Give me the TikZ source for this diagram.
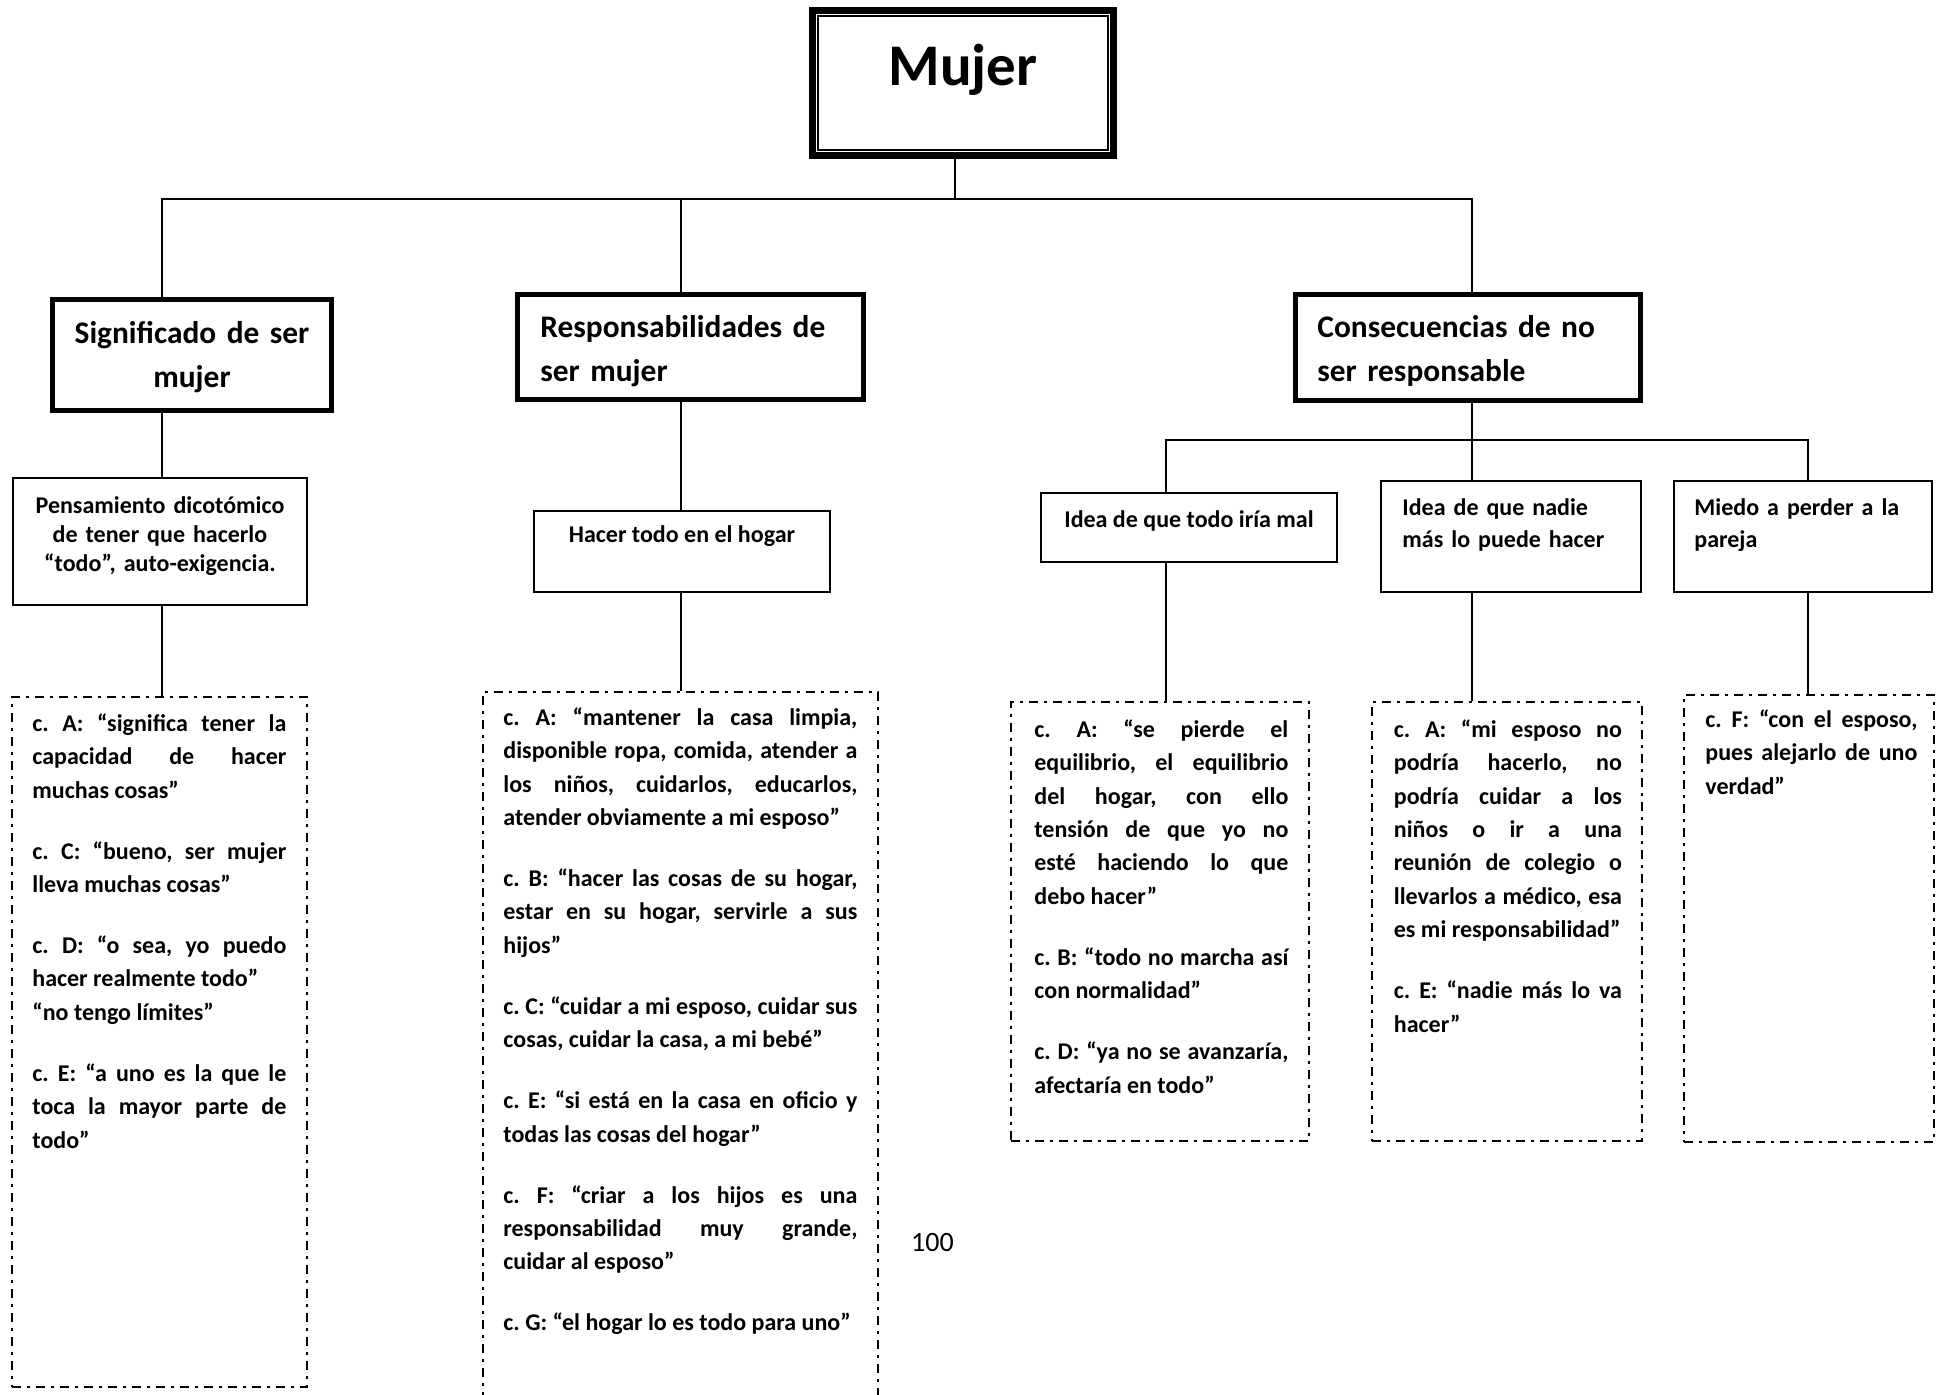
\documentclass[tikz,border=0pt]{standalone}
\usepackage{fontspec}
\setmainfont{Carlito}
\frenchspacing
\tikzstyle{rootblock} = [draw, rectangle, line width=3.5pt, inner sep=0pt,
minimum width=150.5pt, minimum height=72.5pt]
\tikzstyle{block} = [draw, rectangle, line width=2.5pt, inner sep=0pt]
\tikzstyle{blockA} = [draw, rectangle, line width=1pt, inner sep=0pt]
\tikzstyle{quoteblock} = [draw, rectangle, line width=1pt, inner sep=0pt,
dash pattern=on 4.5pt off 3pt on 1.5pt off 3pt]
\tikzstyle{link} = [line width=1pt]
\tikzstyle{rootlabel} = [inner sep=0pt, anchor=base, font=\fontsize{29.5}{35}\selectfont\bfseries]
\tikzstyle{headlabel} = [inner sep=0pt, font=\fontsize{15.7}{21.8}\selectfont\bfseries]
\tikzstyle{idealabel} = [inner sep=0pt, font=\fontsize{12}{16}\selectfont\bfseries]
\tikzstyle{quotelabel} = [inner sep=0pt, anchor=north west, align=justify,
font=\fontsize{12}{16.7}\selectfont\bfseries,
execute at begin node={\setlength{\parskip}{13.8pt}\parindent=0pt\hyphenpenalty=10000}]

\begin{document}
\begin{tikzpicture}[x=0.5pt, y=-0.5pt]
    \path[use as bounding box, clip] (0,0) rectangle (1942,1395);
    \fill[white] (0,0) rectangle (1942,1395);

    % the boxes of the tree
    \node [rootblock] (mujer) at (963,83) {};
    \draw [line width=1pt] ([shift={(4.5pt,-4.5pt)}]mujer.north west) rectangle ([shift={(-4.5pt,4.5pt)}]mujer.south east);
    \node [block, minimum width=139.5pt, minimum height=55.5pt] (significado) at (192,355) {};
    \node [block, minimum width=173pt, minimum height=52.5pt] (responsabilidades) at (690.5,347) {};
    \node [block, minimum width=172.5pt, minimum height=53pt] (consecuencias) at (1468,347.5) {};
    \node [blockA, minimum width=147pt, minimum height=63.5pt] (pensamiento) at (160,541.5) {};
    \node [blockA, minimum width=148pt, minimum height=40.5pt] (hacerTodo) at (682,551.5) {};
    \node [blockA, minimum width=148pt, minimum height=34.5pt] (ideaMal) at (1189,527.5) {};
    \node [blockA, minimum width=130pt, minimum height=55.5pt] (ideaNadie) at (1511,536.5) {};
    \node [blockA, minimum width=129pt, minimum height=55.5pt] (miedoPareja) at (1803,536.5) {};
    \node [quoteblock, minimum width=147.5pt, minimum height=345pt] (citasSignificado) at (159.5,1042) {};
    \node [quoteblock, minimum width=197.5pt, minimum height=359pt] (citasHogar) at (680.5,1051) {};
    \node [quoteblock, minimum width=149pt, minimum height=219.5pt] (citasIdeaMal) at (1160,921.5) {};
    \node [quoteblock, minimum width=135pt, minimum height=219.5pt] (citasNadie) at (1507,921.5) {};
    \node [quoteblock, minimum width=125pt, minimum height=223.5pt] (citasMiedo) at (1809,918.5) {};

    % texts
    \node [rootlabel] (mujerText) at (963,85.5) {Mujer};
    \node [headlabel, anchor=north, text width=139pt, align=center] (significadoText) at (192,312.5)
        {\strut Significado de ser\\mujer};
    \node [headlabel, anchor=north west, text width=160pt, align=left] (responsabilidadesText) at (540,306.5)
        {\strut Responsabilidades de\\ser mujer};
    \node [headlabel, anchor=north west, text width=160pt, align=left] (consecuenciasText) at (1317,306.5)
        {\strut Consecuencias de no\\ser responsable};
    \node [idealabel, font=\fontsize{12}{14.5}\selectfont\bfseries, anchor=north, text width=145pt, align=center]
        (pensamientoText) at (160,492.7)
        {\strut Pensamiento dicotómico\\de tener que hacerlo\\“todo”, auto-exigencia.};
    \node [idealabel, anchor=base] (hacerTodoText) at (682,543) {Hacer todo en el hogar};
    \node [idealabel, anchor=base] (ideaMalText) at (1189,527) {Idea de que todo iría mal};
    \node [idealabel, anchor=north west, text width=120pt, align=left] (ideaNadieText) at (1402,492.6)
        {\strut Idea de que nadie\\más lo puede hacer};
    \node [idealabel, anchor=north west, text width=120pt, align=left] (miedoParejaText) at (1694,492.6)
        {\strut Miedo a perder a la\\pareja};

    \node [quotelabel, text width=127pt] (citasSignificadoText) at (32,707.6)
        {\strut c. A: “significa tener la \linebreak capacidad de hacer \linebreak muchas cosas”\par
        c. C: “bueno, ser mujer \linebreak lleva muchas cosas”\par
        c. D: “o sea, yo puedo \linebreak hacer realmente todo”\newline “no tengo límites”\par
        c. E: “a uno es la que le \linebreak toca la mayor parte de \linebreak todo”};
    \node [quotelabel, text width=177pt] (citasHogarText) at (503,701.6)
        {\strut c. A: “mantener la casa limpia, \linebreak disponible ropa, comida, atender a \linebreak los niños, cuidarlos, educarlos, \linebreak atender obviamente a mi esposo”\par
        c. B: “hacer las cosas de su hogar, \linebreak estar en su hogar, servirle a sus \linebreak hijos”\par
        c. C: “cuidar a mi esposo, cuidar sus \linebreak cosas, cuidar la casa, a mi bebé”\par
        c. E: “si está en la casa en oficio y \linebreak todas las cosas del hogar”\par
        c. F: “criar a los hijos es una \linebreak responsabilidad muy grande, \linebreak cuidar al esposo”\par
        c. G: “el hogar lo es todo para uno”};
    \node [quotelabel, text width=127pt] (citasIdeaMalText) at (1034,713.6)
        {\strut c. A: “se pierde el \linebreak equilibrio, el equilibrio \linebreak del hogar, con ello \linebreak tensión de que yo no \linebreak esté haciendo lo que \linebreak debo hacer”\par
        c. B: “todo no marcha así \linebreak con normalidad”\par
        c. D: “ya no se avanzaría, \linebreak afectaría en todo”};
    \node [quotelabel, text width=114pt] (citasNadieText) at (1393.5,713.6)
        {\strut c. A: “mi esposo no \linebreak podría hacerlo, no \linebreak podría cuidar a los \linebreak niños o ir a una \linebreak reunión de colegio o \linebreak llevarlos a médico, esa \linebreak es mi responsabilidad”\par
        c. E: “nadie más lo va \linebreak hacer”};
    \node [quotelabel, text width=106pt] (citasMiedoText) at (1705,703.6)
        {\strut c. F: “con el esposo, \linebreak pues alejarlo de uno \linebreak verdad”};

    \node [inner sep=0pt, anchor=base, font=\fontsize{14}{16}\selectfont] (pagina) at (932.5,1251) {100};

    % connecting lines
    \coordinate (hub) at (955,199);
    \coordinate (hubCons) at (1472,440);
    \coordinate (colSig) at (162,0);
    \coordinate (colResp) at (681,0);
    \coordinate (colTodo) at (1166,0);
    \coordinate (colMiedo) at (1808,0);
    \draw [link] (mujer.south -| hub) -- (hub);
    \draw [link] (significado.north -| colSig) |- (hub) -| (consecuencias.north -| hubCons);
    \draw [link] (responsabilidades.north -| colResp) -- (hub -| colResp);
    \draw [link] (significado.south -| colSig) -- (pensamiento.north -| colSig);
    \draw [link] (pensamiento.south -| colSig) -- (citasSignificado.north -| colSig);
    \draw [link] (responsabilidades.south -| colResp) -- (hacerTodo.north -| colResp);
    \draw [link] (hacerTodo.south -| colResp) -- (citasHogar.north -| colResp);
    \draw [link] (consecuencias.south -| hubCons) -- (hubCons);
    \draw [link] (ideaMal.north -| colTodo) |- (hubCons) -| (miedoPareja.north -| colMiedo);
    \draw [link] (ideaNadie.north -| hubCons) -- (hubCons);
    \draw [link] (ideaMal.south -| colTodo) -- (citasIdeaMal.north -| colTodo);
    \draw [link] (ideaNadie.south -| hubCons) -- (citasNadie.north -| hubCons);
    \draw [link] (miedoPareja.south -| colMiedo) -- (citasMiedo.north -| colMiedo);
\end{tikzpicture}
\end{document}
